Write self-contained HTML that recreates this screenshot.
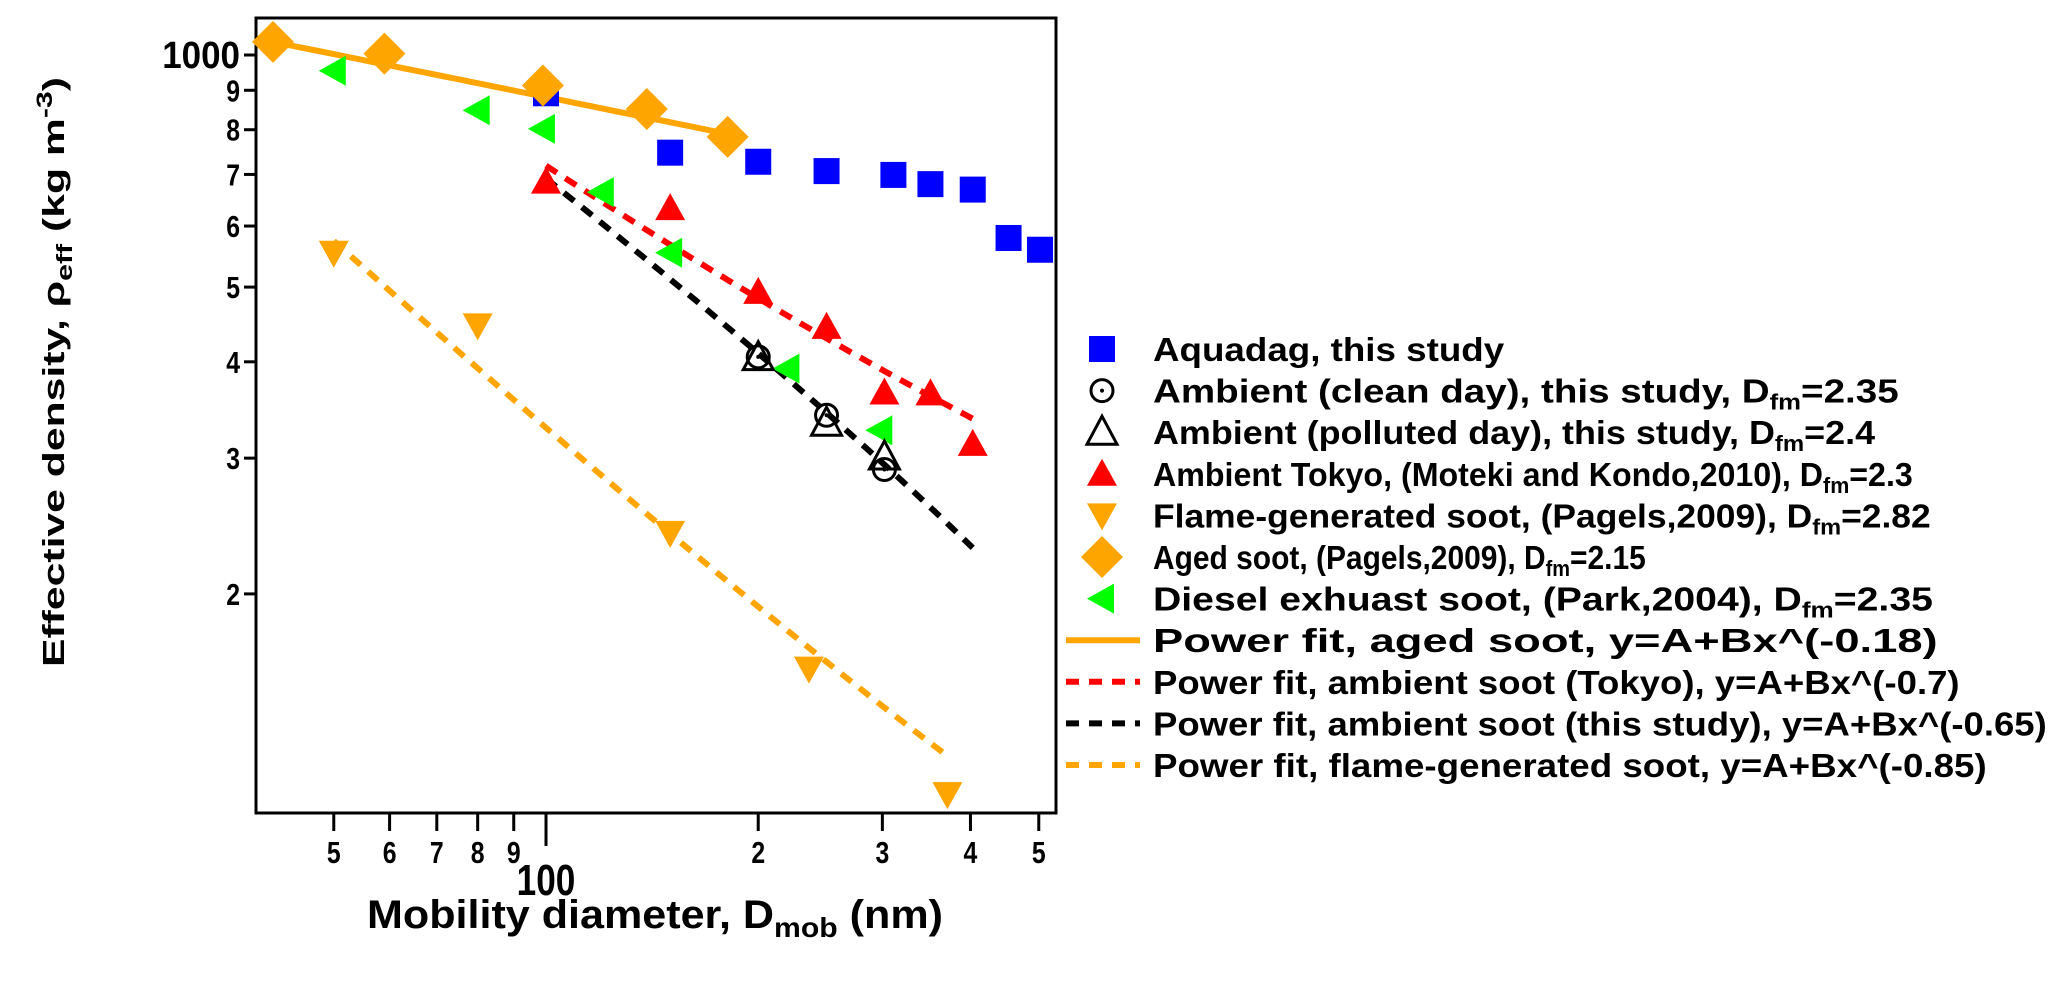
<!DOCTYPE html>
<html><head><meta charset="utf-8"><style>
html,body{margin:0;padding:0;background:#fff;}
svg{display:block;font-family:"Liberation Sans",sans-serif;font-weight:bold;}
</style></head><body>
<svg id="chart" width="2067" height="981" viewBox="0 0 2067 981" xmlns="http://www.w3.org/2000/svg"></svg>
<script>
// ---- data ----
const aquadagX=[100,150,200,250,311,351,403,453,502];
const aquadagY=[892,747,727,707,699,680,669,579,559];
const cleanX=[200,250,302];
const cleanY=[406,341,290];
const pollutedX=[200,250,302];
const pollutedY=[405,333,301];
const tokyoX=[100,150,200,250,302,351,403];
const tokyoY=[685,633,493,444,365,364,313];
const flameX=[50,80,150,236,371];
const flameY=[554,446,240,160,110];
const agedX=[41,59,99,139,181];
const agedY=[1040,1004,913,851,783];
const dieselX=[50,80,99,120,150,220,298];
const dieselY=[954,848,802,664,554,392,326];
// power fits y=A+B*x^p : [A,B,p,xStart,xEnd]
const fitAged=[-26,2080,-0.18,41,181];
const fitTokyo=[107,15363,-0.7,100,403];
const fitThis=[-84,15477,-0.65,100,403];
const fitFlame=[23,15314,-0.85,50,371];
const yTicks=[200,300,400,500,600,700,800,900,1000];
const yTickLabels=["2","3","4","5","6","7","8","9","1000"];
const xTicks=[50,60,70,80,90,100,200,300,400,500];
const xTickLabels=["5","6","7","8","9","","2","3","4","5"];

// ---- axes ----
const L=256,R=1056,T=18,B=813;
const X0=546,XDEC=705,Y0=55,YDEC=771;
const xs=v=>X0+Math.log10(v/100)*XDEC;
const ys=v=>Y0-Math.log10(v/1000)*YDEC;
const NS="http://www.w3.org/2000/svg";
const svg=document.getElementById('chart');
function mk(tag,attrs,parent){const e=document.createElementNS(NS,tag);for(const k in attrs)e.setAttribute(k,attrs[k]);(parent||svg).appendChild(e);return e;}

const plot=mk('g',{});


const frame=mk('rect',{x:L,y:T,width:R-L,height:B-T,fill:'none',stroke:'#000','stroke-width':3},plot);



// y ticks
yTicks.forEach((v,i)=>{
  const y=ys(v);
  const t=mk('line',{x1:L-12,x2:L,y1:y,y2:y,stroke:'#000','stroke-width':3});
  
  
  const big=yTickLabels[i]==="1000";
  const ax=L-16;
  const tx=mk('text',{x:ax,y:y+(big?13:11),'text-anchor':'end','font-size':big?38:31,transform:`translate(${ax},0) scale(${big?0.92:0.8},1) translate(${-ax},0)`});
  tx.textContent=yTickLabels[i];
  
  
});
// x ticks
xTicks.forEach((v,i)=>{
  const x=xs(v);
  const major=v===100;
  const t=mk('line',{x1:x,x2:x,y1:B,y2:B+(major?33:18),stroke:'#000','stroke-width':3});
  
  
  if(xTickLabels[i]){
    const tx=mk('text',{x:x,y:B+50,'text-anchor':'middle','font-size':31,transform:`translate(${x},0) scale(0.8,1) translate(${-x},0)`});
    tx.textContent=xTickLabels[i];
    
    
  }
});
const h=mk('text',{x:xs(100),y:B+82,'text-anchor':'middle','font-size':44,transform:`translate(${xs(100)},0) scale(0.8,1) translate(${-xs(100)},0)`});
h.textContent="100";



// axis titles
const xt=mk('text',{x:655,y:928,'text-anchor':'middle','font-size':40,textLength:576,lengthAdjust:'spacingAndGlyphs'});
xt.innerHTML='Mobility diameter, D<tspan font-size="28" dy="9">mob</tspan><tspan dy="-9"> (nm)</tspan>';


const yt=mk('text',{x:0,y:0,'text-anchor':'middle','font-size':31,transform:'translate(64,372) rotate(-90)',textLength:590,lengthAdjust:'spacingAndGlyphs'});
yt.innerHTML='Effective density, ρ<tspan font-size="22" dy="8">eff</tspan><tspan dy="-8">  (kg m</tspan><tspan font-size="22" dy="-12">-3</tspan><tspan dy="12">)</tspan>';



// fits
function fitPath(f){let d='';const n=60;for(let i=0;i<=n;i++){const x=f[3]*Math.pow(f[4]/f[3],i/n);const y=f[0]+f[1]*Math.pow(x,f[2]);d+=(i?'L':'M')+xs(x).toFixed(1)+','+ys(y).toFixed(1);}return d;}
function drawFit(f,color,dash,name){
  const p=mk('path',{d:fitPath(f),fill:'none',stroke:color,'stroke-width':6});
  if(dash)p.setAttribute('stroke-dasharray','13 10');
  
  
}
drawFit(fitAged,'#ffa500',false,'fit-aged-soot');
drawFit(fitTokyo,'#ff0000',true,'fit-tokyo');
drawFit(fitThis,'#000000',true,'fit-this-study');
drawFit(fitFlame,'#ffa500',true,'fit-flame-soot');

// markers
function marker(type,cx,cy,parent){
  let e;
  if(type==='square')e=mk('rect',{x:cx-13,y:cy-13,width:26,height:26,fill:'#0000ff'},parent);
  else if(type==='circle'){e=mk('g',{},parent);mk('circle',{cx:cx,cy:cy,r:11,fill:'none',stroke:'#000','stroke-width':3},e);mk('circle',{cx:cx,cy:cy,r:2,fill:'#000'},e);}
  else if(type==='opentri')e=mk('path',{d:`M${cx},${cy-16}L${cx+15},${cy+12}L${cx-15},${cy+12}Z`,fill:'none',stroke:'#000','stroke-width':3},parent);
  else if(type==='up')e=mk('path',{d:`M${cx},${cy-15}L${cx+15},${cy+12}L${cx-15},${cy+12}Z`,fill:'#ff0000'},parent);
  else if(type==='down')e=mk('path',{d:`M${cx},${cy+15}L${cx+15},${cy-12}L${cx-15},${cy-12}Z`,fill:'#ffa500'},parent);
  else if(type==='diamond')e=mk('path',{d:`M${cx},${cy-21}L${cx+21},${cy}L${cx},${cy+21}L${cx-21},${cy}Z`,fill:'#ffa500'},parent);
  else if(type==='left')e=mk('path',{d:`M${cx-15},${cy}L${cx+12},${cy-15}L${cx+12},${cy+15}Z`,fill:'#00ff00'},parent);
  return e;
}
function series(xa,ya,type,name){
  xa.forEach((v,i)=>{
    const m=marker(type,xs(v),ys(ya[i]));
    
    
  });
}
series(dieselX,dieselY,'left','diesel-point');
series(aquadagX,aquadagY,'square','aquadag-point');
series(tokyoX,tokyoY,'up','tokyo-point');
series(flameX,flameY,'down','flame-point');
series(agedX,agedY,'diamond','aged-point');
series(pollutedX,pollutedY,'opentri','polluted-point');
series(cleanX,cleanY,'circle','clean-point');

// legend
const legendItems=[
 ['square','Aquadag, this study',352],
 ['circle','Ambient (clean day), this study, D<tspan font-size="22" dy="7">fm</tspan><tspan dy="-7">=2.35</tspan>',746],
 ['opentri','Ambient (polluted day), this study, D<tspan font-size="22" dy="7">fm</tspan><tspan dy="-7">=2.4</tspan>',723],
 ['up','Ambient Tokyo, (Moteki and Kondo,2010), D<tspan font-size="22" dy="7">fm</tspan><tspan dy="-7">=2.3</tspan>',760],
 ['down','Flame-generated soot, (Pagels,2009), D<tspan font-size="22" dy="7">fm</tspan><tspan dy="-7">=2.82</tspan>',778],
 ['diamond','Aged soot,  (Pagels,2009), D<tspan font-size="22" dy="7">fm</tspan><tspan dy="-7">=2.15</tspan>',493],
 ['left','Diesel exhuast soot, (Park,2004), D<tspan font-size="22" dy="7">fm</tspan><tspan dy="-7">=2.35</tspan>',780],
 ['solid:#ffa500','Power fit, aged soot, y=A+Bx^(-0.18)',785],
 ['dash:#ff0000','Power fit, ambient soot (Tokyo), y=A+Bx^(-0.7)',807],
 ['dash:#000','Power fit, ambient soot (this study), y=A+Bx^(-0.65)',894],
 ['dash:#ffa500','Power fit, flame-generated soot, y=A+Bx^(-0.85)',834]
];
const lg=mk('g',{});


legendItems.forEach((it,i)=>{
  const y=349+i*41.6;
  const g=mk('g',{},lg);
  
  
  if(it[0].includes(':')){
    const [k,c]=it[0].split(':');
    const l=mk('line',{x1:1066,x2:1140,y1:y,y2:y,stroke:c,'stroke-width':6},g);
    if(k==='dash')l.setAttribute('stroke-dasharray','13 10');
  } else marker(it[0],1102,y,g);
  const t=mk('text',{x:1153,y:y+12,'font-size':33},g);
  t.innerHTML=it[1];
  const w=t.getBBox().width||it[2];
  const s=it[2]/w;
  t.setAttribute('transform',`translate(1153,0) scale(${s},1) translate(-1153,0)`);
});
</script>
</body></html>
